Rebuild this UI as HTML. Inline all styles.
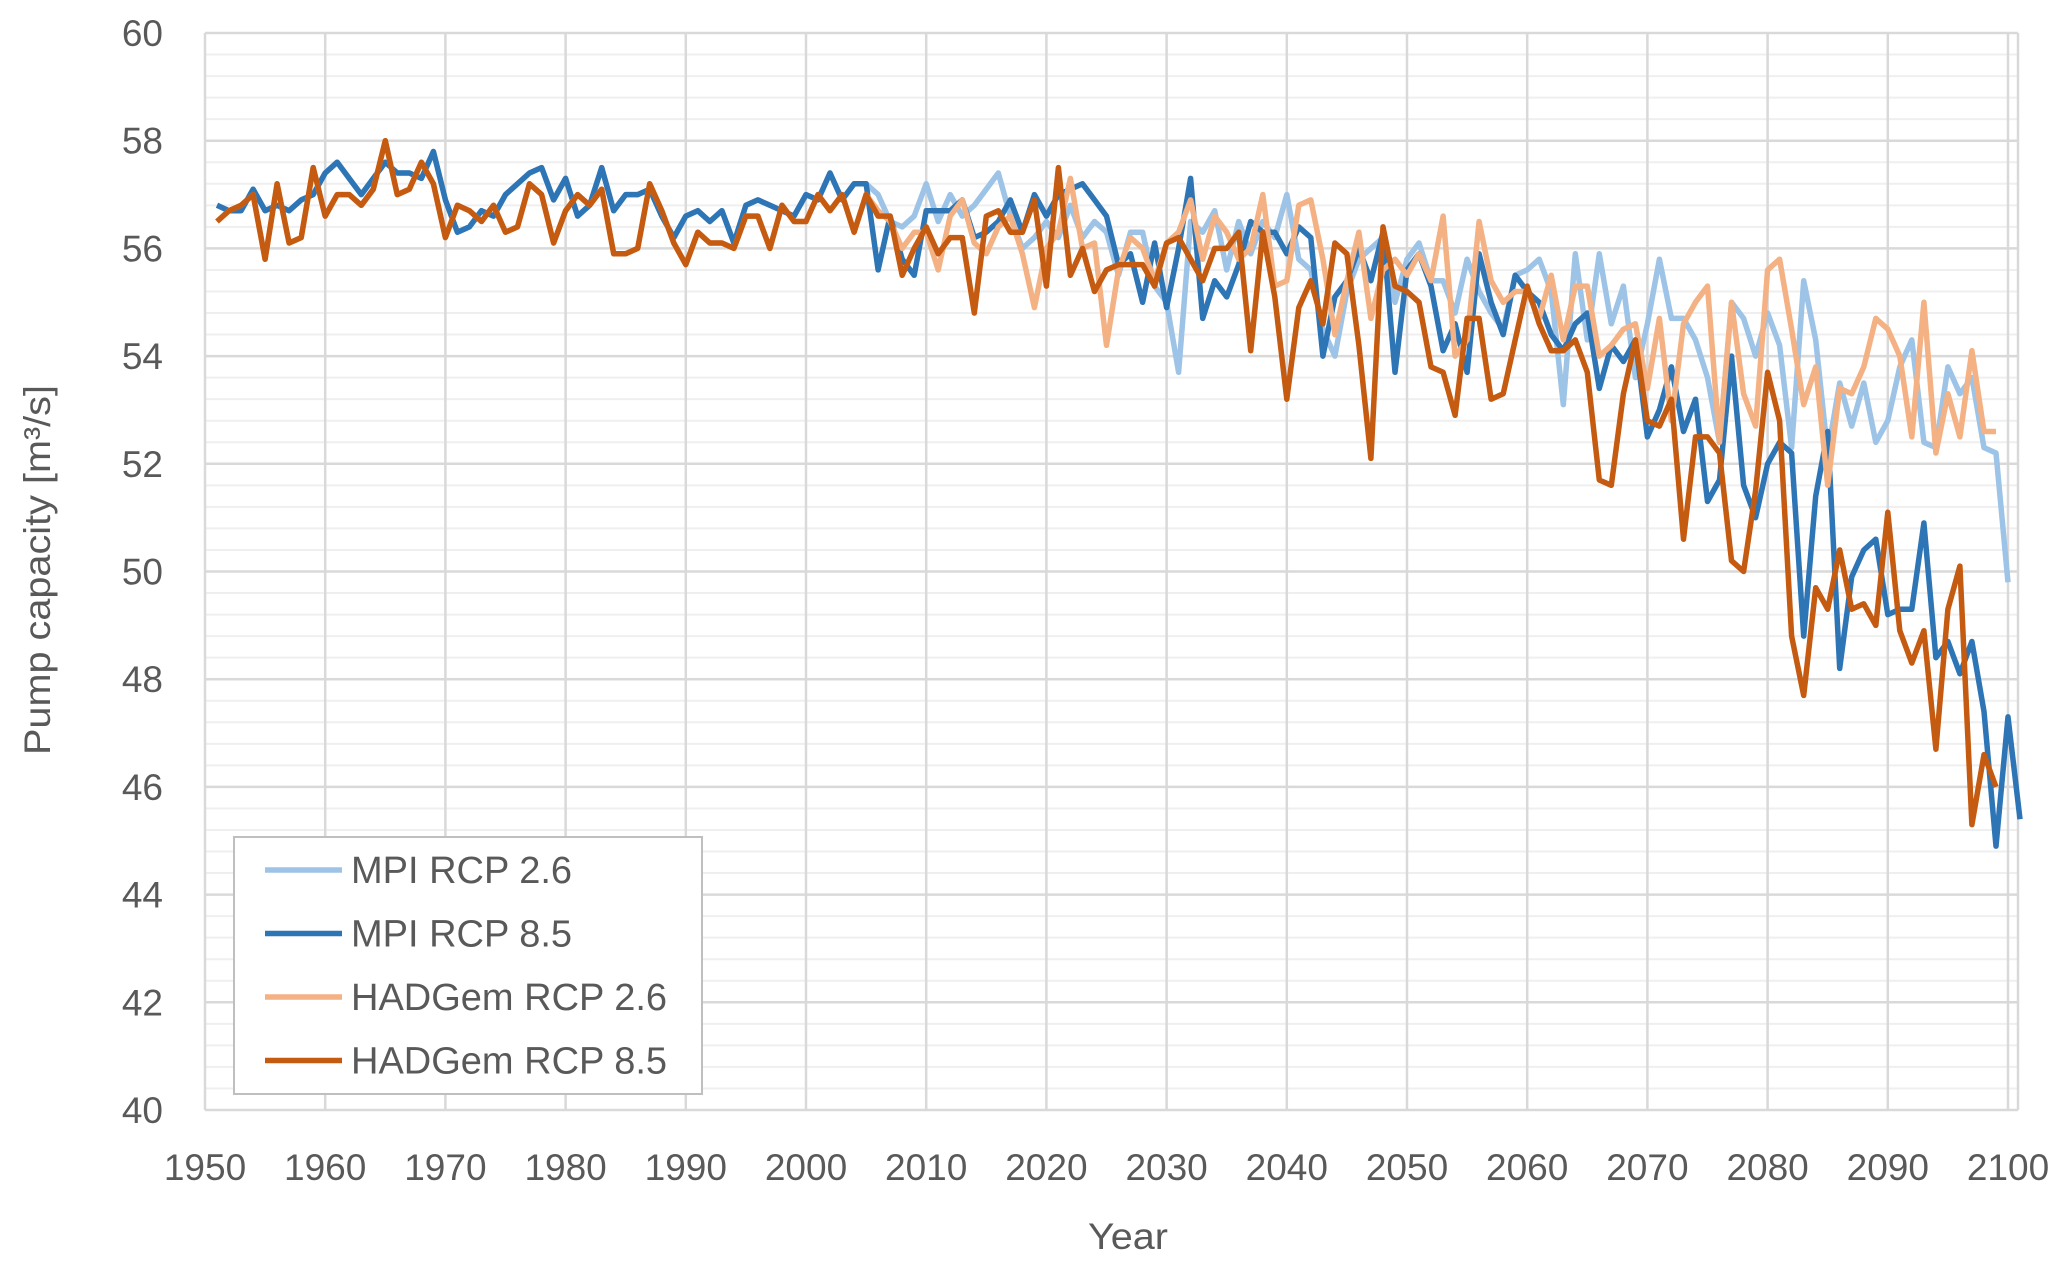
<!DOCTYPE html>
<html><head><meta charset="utf-8"><style>
html,body{margin:0;padding:0;background:#fff;}
svg{display:block;font-family:"Liberation Sans",sans-serif;}
</style></head><body>
<svg id="chart" width="2067" height="1263" viewBox="0 0 2067 1263" xmlns="http://www.w3.org/2000/svg">
<g id="grid"></g>
<g id="series"></g>
<g id="yticks"></g>
<g id="xticks"></g>
<text transform="translate(50,570) rotate(-90)" text-anchor="middle" font-size="37" fill="#595959" textLength="370" lengthAdjust="spacingAndGlyphs">Pump capacity [m³/s]</text>
<text x="1128" y="1249" text-anchor="middle" font-size="37" fill="#595959" textLength="80" lengthAdjust="spacingAndGlyphs">Year</text>
<g id="legend">
<rect x="234" y="837" width="468" height="257" fill="#fff" stroke="#bfbfbf" stroke-width="2"/>
</g>
</svg>
<script>
const startHist = 1951;
const startScen = 2006;
const mpiHist = [56.8,56.7,56.7,57.1,56.7,56.8,56.7,56.9,57.0,57.4,57.6,57.3,57.0,57.3,57.6,57.4,57.4,57.3,57.8,56.9,56.3,56.4,56.7,56.6,57.0,57.2,57.4,57.5,56.9,57.3,56.6,56.8,57.5,56.7,57.0,57.0,57.1,56.6,56.2,56.6,56.7,56.5,56.7,56.1,56.8,56.9,56.8,56.7,56.6,57.0,56.9,57.4,56.9,57.2,57.2];
const hadHist = [56.5,56.7,56.8,57.0,55.8,57.2,56.1,56.2,57.5,56.6,57.0,57.0,56.8,57.1,58.0,57.0,57.1,57.6,57.2,56.2,56.8,56.7,56.5,56.8,56.3,56.4,57.2,57.0,56.1,56.7,57.0,56.8,57.1,55.9,55.9,56.0,57.2,56.7,56.1,55.7,56.3,56.1,56.1,56.0,56.6,56.6,56.0,56.8,56.5,56.5,57.0,56.7,57.0,56.3,57.0];
const mpi26 = [57.0,56.5,56.4,56.6,57.2,56.5,57.0,56.6,56.8,57.1,57.4,56.6,56.0,56.2,56.5,56.2,56.8,56.2,56.5,56.3,55.5,56.3,56.3,55.3,55.0,53.7,56.5,56.3,56.7,55.6,56.5,55.9,56.5,56.2,57.0,55.8,55.6,54.5,54.0,55.2,55.8,56.0,56.2,55.0,55.8,56.1,55.4,55.4,54.8,55.8,55.2,54.8,54.5,55.5,55.6,55.8,55.2,53.1,55.9,54.3,55.9,54.6,55.3,53.6,54.6,55.8,54.7,54.7,54.3,53.6,52.4,55.0,54.7,54.0,54.8,54.2,52.3,55.4,54.3,52.2,53.5,52.7,53.5,52.4,52.8,53.8,54.3,52.4,52.3,53.8,53.3,53.6,52.3,52.2,49.8];
const mpi85 = [55.6,56.6,55.8,55.5,56.7,56.7,56.7,56.9,56.2,56.3,56.5,56.9,56.3,57.0,56.6,57.0,57.1,57.2,56.9,56.6,55.7,55.9,55.0,56.1,54.9,56.0,57.3,54.7,55.4,55.1,55.7,56.5,56.3,56.3,55.9,56.4,56.2,54.0,55.1,55.4,56.0,55.4,56.3,53.7,55.6,55.9,55.3,54.1,54.6,53.7,55.9,55.0,54.4,55.5,55.2,55.0,54.4,54.1,54.6,54.8,53.4,54.2,53.9,54.3,52.5,53.0,53.8,52.6,53.2,51.3,51.7,54.0,51.6,51.0,52.0,52.4,52.2,48.8,51.4,52.6,48.2,49.9,50.4,50.6,49.2,49.3,49.3,50.9,48.4,48.7,48.1,48.7,47.4,44.9,47.3,45.4];
const had26 = [56.7,56.5,56.0,56.3,56.3,55.6,56.6,56.9,56.1,55.9,56.4,56.6,55.9,54.9,56.0,56.3,57.3,56.0,56.1,54.2,55.6,56.2,56.0,55.4,56.1,56.3,56.9,55.8,56.6,56.3,55.8,56.0,57.0,55.3,55.4,56.8,56.9,55.8,54.4,55.4,56.3,54.7,55.6,55.8,55.5,55.9,55.4,56.6,54.0,54.3,56.5,55.4,55.0,55.2,55.2,54.7,55.5,54.3,55.3,55.3,54.0,54.2,54.5,54.6,53.4,54.7,52.8,54.6,55.0,55.3,52.4,55.0,53.3,52.7,55.6,55.8,54.5,53.1,53.8,51.6,53.4,53.3,53.8,54.7,54.5,54.0,52.5,55.0,52.2,53.3,52.5,54.1,52.6,52.6];
const had85 = [56.6,56.6,55.5,56.0,56.4,55.9,56.2,56.2,54.8,56.6,56.7,56.3,56.3,56.9,55.3,57.5,55.5,56.0,55.2,55.6,55.7,55.7,55.7,55.3,56.1,56.2,55.8,55.4,56.0,56.0,56.3,54.1,56.3,55.1,53.2,54.9,55.4,54.6,56.1,55.9,54.2,52.1,56.4,55.3,55.2,55.0,53.8,53.7,52.9,54.7,54.7,53.2,53.3,54.3,55.3,54.6,54.1,54.1,54.3,53.7,51.7,51.6,53.3,54.3,52.8,52.7,53.2,50.6,52.5,52.5,52.2,50.2,50.0,51.5,53.7,52.8,48.8,47.7,49.7,49.3,50.4,49.3,49.4,49.0,51.1,48.9,48.3,48.9,46.7,49.3,50.1,45.3,46.6,46.0];
const yTicks = [40,42,44,46,48,50,52,54,56,58,60];
const xTicks = [1950,1960,1970,1980,1990,2000,2010,2020,2030,2040,2050,2060,2070,2080,2090,2100];
const legendLabels = ["MPI RCP 2.6","MPI RCP 8.5","HADGem RCP 2.6","HADGem RCP 8.5"];

const NS="http://www.w3.org/2000/svg";
const X=yr=>205+(yr-1950)*12.02;
const Y=v=>33+(60-v)*53.85;
function mk(tag,attrs,parent){const e=document.createElementNS(NS,tag);for(const k in attrs)e.setAttribute(k,attrs[k]);parent.appendChild(e);return e;}
const grid=document.getElementById('grid');
for(let v=40;v<=60.001;v+=0.4){
  const major=Math.abs(v/2-Math.round(v/2))<0.01;
  const l=mk('line',{x1:205,x2:2018,y1:Y(v),y2:Y(v),stroke:major?'#d9d9d9':'#efefef','stroke-width':major?2.5:2},grid);
  
  
}
xTicks.forEach(t=>{
  const l=mk('line',{x1:X(t),x2:X(t),y1:Y(60),y2:Y(40),stroke:'#d9d9d9','stroke-width':2.5},grid);
  
  
});
const rb=mk('line',{x1:2018,x2:2018,y1:Y(60),y2:Y(40),stroke:'#d9d9d9','stroke-width':2.5},grid);


const yt=document.getElementById('yticks');
yTicks.forEach(t=>{
  const e=mk('text',{x:163,y:Y(t)+13,'text-anchor':'end','font-size':37,fill:'#595959'},yt);
  e.textContent=t;
  
  
});
const xt=document.getElementById('xticks');
xTicks.forEach(t=>{
  const e=mk('text',{x:X(t),y:1180,'text-anchor':'middle','font-size':37,fill:'#595959'},xt);
  e.textContent=t;
  
  
});
function pts(hist,scen){
  const a=[];
  hist.forEach((v,i)=>a.push([X(startHist+i),Y(v)]));
  scen.forEach((v,i)=>a.push([X(startScen+i),Y(v)]));
  return a.map(p=>p[0].toFixed(1)+','+p[1].toFixed(1)).join(' ');
}
const colors=['#9dc3e6','#2e75b6','#f4b183','#c55a11'];
const names=['series-mpi-rcp26','series-mpi-rcp85','series-hadgem-rcp26','series-hadgem-rcp85'];
const sets=[[mpiHist,mpi26],[mpiHist,mpi85],[hadHist,had26],[hadHist,had85]];
const sg=document.getElementById('series');
sets.forEach((s,i)=>{
  const p=mk('polyline',{points:pts(s[0],s[1]),fill:'none',stroke:colors[i],'stroke-width':5.5,'stroke-linejoin':'round'},sg);
  
  
});
const lg=document.getElementById('legend');
legendLabels.forEach((lab,i)=>{
  const y=870+i*63.5;
  const l=mk('line',{x1:265,x2:342,y1:y,y2:y,stroke:colors[i],'stroke-width':5.5},lg);
  
  
  const t=mk('text',{x:351,y:y+13,'font-size':38,fill:'#595959'},lg);
  t.textContent=lab;
  
  
});
</script>
</body></html>
